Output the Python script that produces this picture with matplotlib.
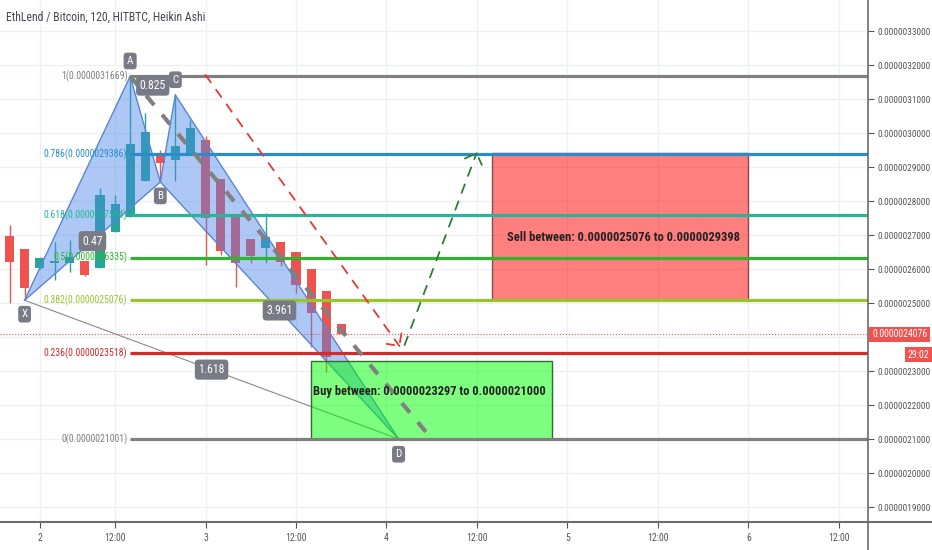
import matplotlib
matplotlib.use('Agg')
import matplotlib.pyplot as plt
from matplotlib.patches import Polygon, Rectangle, FancyArrowPatch, ArrowStyle
from matplotlib.ticker import FuncFormatter

plt.rcParams['font.family'] = ['Roboto Condensed', 'DejaVu Sans']

SCALE = 1e-10  # prices kept in units of 1e-10 BTC

# heikin ashi candles (2h bars), index 0 = first bar on screen
ha_open = [26971, 26589, 26030, 26177, 26177, 26236, 26030, 27103, 27515, 28596, 29313, 29215,
           29417, 29782, 28641, 27585, 26881, 26632, 26787, 26497, 26014, 25360, 24386]
ha_high = [27294, 26600, 26350, 26794, 26853, 26240, 28383, 28177, 31669, 30588, 29500, 31118,
           30383, 29900, 28641, 27585, 26881, 27647, 26787, 26497, 26014, 25360, 24386]
ha_low = [25000, 25080, 26000, 25677, 25912, 25800, 26030, 27103, 27515, 28596, 28559, 28600,
          29417, 26118, 26400, 25471, 26177, 26177, 26100, 25294, 23706, 22971, 24076]
ha_close = [26206, 25442, 26324, 26236, 26353, 25824, 28177, 27912, 29677, 30030, 29118, 29618,
            30147, 27500, 26530, 26177, 26383, 26941, 26206, 25530, 24706, 23412, 24076]
last_price = 24076

# XABCD pattern
pat_names = ['X', 'A', 'B', 'C', 'D']
pat_x = [1, 8, 10, 11, 25.8]
pat_y = [25080, 31669, 28559, 31118, 21001]
ratio_labels = [('0.47', 0, 2), ('0.825', 1, 3), ('3.961', 2, 4), ('1.618', 0, 4)]

# fib retracement drawn from A
fib_ratios = ['1', '0.786', '0.618', '0.5', '0.382', '0.236', '0']
fib_prices = [31669, 29386, 27594, 26335, 25076, 23518, 21001]
fib_colors = ['#808080', '#2b8ccc', '#26b59a', '#2db52d', '#9ac42c', '#d42a2a', '#808080']

# trade zones
sell_lo, sell_hi = 25076, 29398
buy_lo, buy_hi = 21000, 23297

x_ticks = [2, 7, 13, 19, 25, 31, 37, 43, 49, 55]
x_labels = ['2', '12:00', '3', '12:00', '4', '12:00', '5', '12:00', '6', '12:00']
y_ticks = list(range(19000, 34000, 1000))

fig = plt.figure(figsize=(9.32, 5.5), dpi=100)
ax = fig.add_axes([0, 28 / 550, 868 / 932, 522 / 550])
ax.set_xlim(-0.63, 56.93)
ax.set_ylim(18559, 33912)

# grid
for t in x_ticks:
    ax.axvline(t, color='#eef0f4', lw=1, zorder=0)
for t in y_ticks:
    ax.axhline(t, color='#eef0f4', lw=1, zorder=0)

# candles
idx = list(range(len(ha_open)))
cols = ['#26a69a' if c >= o else '#ef5350' for o, c in zip(ha_open, ha_close)]
ax.vlines(idx, ha_low, ha_high, colors=cols, lw=1, zorder=2)
ax.bar(idx, [c - o for o, c in zip(ha_open, ha_close)], bottom=ha_open, width=0.6,
       color=cols, zorder=2)

# pattern triangles
tri_fc = '#4a86e8'
ax.add_patch(Polygon([(pat_x[i], pat_y[i]) for i in (0, 1, 2)], closed=True, fc=tri_fc,
                     alpha=0.45, ec='none', zorder=3))
ax.add_patch(Polygon([(pat_x[i], pat_y[i]) for i in (2, 3, 4)], closed=True, fc=tri_fc,
                     alpha=0.45, ec='none', zorder=3))
for a, b in [(0, 1), (1, 2), (0, 2), (2, 3), (3, 4), (2, 4)]:
    ax.plot([pat_x[a], pat_x[b]], [pat_y[a], pat_y[b]], color='#5a86d0', lw=1, zorder=3)
ax.plot([pat_x[0], pat_x[4]], [pat_y[0], pat_y[4]], color='#8a8a8a', lw=0.8, zorder=3)

# zones
ax.add_patch(Rectangle((32, sell_lo), 17, sell_hi - sell_lo, fc=(1, 0, 0, 0.5),
                       ec='#8b4a4a', lw=1, zorder=4))
ax.add_patch(Rectangle((20, buy_lo), 16, buy_hi - buy_lo, fc=(0, 1, 0, 0.5),
                       ec='#2e6b2e', lw=1, zorder=4))
ax.text(33, 26941, f'Sell between: {sell_lo * SCALE:.10f} to {sell_hi * SCALE:.10f}',
        fontsize=9, fontweight='bold', color='#222222', va='center', ha='left', zorder=7)
ax.text(20.1, 22383, f'Buy between: {buy_hi * SCALE:.10f} to {buy_lo * SCALE:.10f}',
        fontsize=9, fontweight='bold', color='#222222', va='center', ha='left', zorder=7)

# fib levels
for r, p, c in zip(fib_ratios, fib_prices, fib_colors):
    ax.plot([pat_x[1], 56.93], [p, p], color=c, lw=2.3, zorder=5, solid_capstyle='butt')
    ax.annotate(f'{r}({p * SCALE:.10f})', (pat_x[1], p), xytext=(-2, 0),
                textcoords='offset points', ha='right', va='center', fontsize=7, color=c,
                zorder=6)

# last price line
ax.axhline(last_price, color='#ef5350', lw=0.8, ls=':', zorder=5)

# projection lines
ax.plot([pat_x[1], 28], [pat_y[1], 21001], color='#808080', lw=3, dashes=(3, 3), zorder=5)
red_arrow = FancyArrowPatch((13, 31706), (25.9, 23706),
                            arrowstyle=ArrowStyle('->', head_length=0.5, head_width=0.5),
                            mutation_scale=13, color='#e53935', lw=1.3, ls=(0, (5, 5)),
                            zorder=5, shrinkA=0, shrinkB=0)
ax.add_patch(red_arrow)
green_arrow = FancyArrowPatch((26.2, 23765), (31.0, 29441),
                              arrowstyle=ArrowStyle('->', head_length=0.5, head_width=0.5),
                              mutation_scale=13, color='#2e7d32', lw=1.3, ls=(0, (5, 5)),
                              zorder=5, shrinkA=0, shrinkB=0)
ax.add_patch(green_arrow)

# labels
box = dict(boxstyle='round,pad=0.3', fc='#787b86', ec='none')
offsets = {'X': -10, 'A': 11, 'B': -10, 'C': 11, 'D': -11}
for n, x, y in zip(pat_names, pat_x, pat_y):
    ax.annotate(n, (x, y), xytext=(0, offsets[n]), textcoords='offset points', ha='center',
                va='center', fontsize=8, color='white', bbox=box, zorder=8)
for txt, a, b in ratio_labels:
    mx = (pat_x[a] + pat_x[b]) / 2
    my = (pat_y[a] + pat_y[b]) / 2
    ax.text(mx, my, txt, ha='center', va='center', fontsize=8.5, color='white', bbox=box,
            zorder=8)


def price_fmt(v, pos):
    # the axis tag for the last price hides the label next to it
    if abs(v - last_price) < 500:
        return ''
    return f'{v * SCALE:.10f}'


# axes styling
for s in ['top', 'left', 'bottom', 'right']:
    ax.spines[s].set_visible(False)
ax.yaxis.tick_right()
ax.set_yticks(y_ticks)
ax.yaxis.set_major_formatter(FuncFormatter(price_fmt))
ax.set_xticks(x_ticks)
ax.set_xticklabels(x_labels)
ax.tick_params(axis='both', colors='#555555', labelsize=7, length=4, width=0.8)
ax.tick_params(axis='y', pad=3, labelsize=6.7)
ax.tick_params(axis='x', pad=4)

fig.add_artist(plt.Line2D([0, 1], [28 / 550, 28 / 550], color='#6b6b6b', lw=1.5))
fig.add_artist(plt.Line2D([868 / 932, 868 / 932], [0, 1], color='#6b6b6b', lw=1.2))

# price tags on axis
ax.annotate(f'{last_price * SCALE:.10f}', (1, last_price), xycoords=('axes fraction', 'data'),
            xytext=(3, 0), textcoords='offset points', ha='left', va='center', fontsize=7,
            color='white', bbox=dict(boxstyle='square,pad=0.3', fc='#ef5350', ec='none'),
            annotation_clip=False)
ax.annotate('29:02', (1, last_price), xycoords=('axes fraction', 'data'),
            xytext=(44, -14.5), textcoords='offset points', ha='right', va='center',
            fontsize=7, color='white',
            bbox=dict(boxstyle='square,pad=0.3', fc='#ef5350', ec='none'),
            annotation_clip=False)

fig.text(6 / 932, 1 - 17 / 550, 'EthLend / Bitcoin, 120, HITBTC, Heikin Ashi', fontsize=8.5,
         color='#434651', va='center', ha='left')

fig.savefig('out.png', dpi=100, facecolor='white')
